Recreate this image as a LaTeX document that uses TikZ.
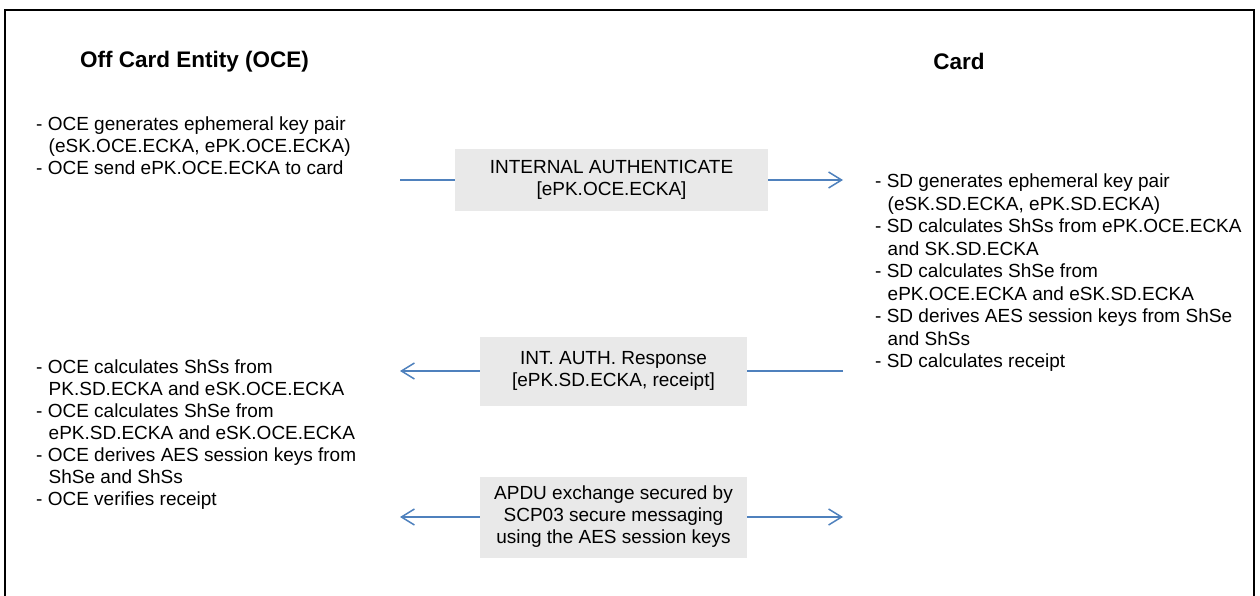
\documentclass[tikz,border=0pt]{standalone}
\usepackage{fontspec}
\setmainfont{Liberation Sans}
\usepackage{tikz}
\usetikzlibrary{arrows.meta,positioning}
\definecolor{flowblue}{RGB}{79,129,189}
\definecolor{boxgray}{RGB}{233,233,233}

\begin{document}
\begin{tikzpicture}[x=1pt,y=-1pt,
  party/.style={inner sep=0pt, font=\fontsize{22.5}{27}\selectfont\bfseries},
  steps/.style={inner sep=0pt, anchor=north west, align=left, font=\fontsize{19}{22}\selectfont},
  msgbox/.style={fill=boxgray, inner sep=0pt, align=center, font=\fontsize{19}{22}\selectfont},
  flow/.style={line width=1.5pt, color=flowblue},
  tip/.style={-{Straight Barb[length=13pt,width=16pt,line width=1.5pt]}}]
\useasboundingbox (0,0) rectangle (1260,596);
\draw[line width=1.5pt] (5,596) |- (1254,10) -- (1254,596);

% the two parties
\node[party] (oce) at (194.5,62) {Off Card Entity (OCE)};
\node[party] (card) at (959,61) {Card};

% what each side does
\node[steps] (oce1) at (36,116.5) {- OCE generates ephemeral key pair\\
  \hspace*{12.5pt}(eSK.OCE.ECKA, ePK.OCE.ECKA)\\
  - OCE send ePK.OCE.ECKA to card};
\node[steps, font=\fontsize{19}{22.5}\selectfont] (sd1) at (875,174) {- SD generates ephemeral key pair\\
  \hspace*{12.5pt}(eSK.SD.ECKA, ePK.SD.ECKA)\\
  - SD calculates ShSs from ePK.OCE.ECKA\\
  \hspace*{12.5pt}and SK.SD.ECKA\\
  - SD calculates ShSe from\\
  \hspace*{12.5pt}ePK.OCE.ECKA and eSK.SD.ECKA\\
  - SD derives AES session keys from ShSe\\
  \hspace*{12.5pt}and ShSs\\
  - SD calculates receipt};
\node[steps] (oce2) at (36,360) {- OCE calculates ShSs from\\
  \hspace*{12.5pt}PK.SD.ECKA and eSK.OCE.ECKA\\
  - OCE calculates ShSe from\\
  \hspace*{12.5pt}ePK.SD.ECKA and eSK.OCE.ECKA\\
  - OCE derives AES session keys from\\
  \hspace*{12.5pt}ShSe and ShSs\\
  - OCE verifies receipt};

% messages
\node[msgbox, minimum width=313pt, minimum height=62pt] (msg1) at (611.5,180) {INTERNAL AUTHENTICATE\\ {[}ePK.OCE.ECKA{]}};
\node[msgbox, minimum width=267pt, minimum height=69pt] (msg2) at (613.5,371) {INT. AUTH. Response\\ {[}ePK.SD.ECKA, receipt{]}};
\node[msgbox, minimum width=267pt, minimum height=81pt] (msg3) at (613.5,517) {APDU exchange secured by\\ SCP03 secure messaging\\ using the AES session keys};

\coordinate (l1) at (400,180);
\coordinate (r1) at (843,180);
\coordinate (l2) at (400,371);
\coordinate (r2) at (843,371);
\coordinate (l3) at (400,517);
\coordinate (r3) at (843,517);

\draw[flow] (l1) -- (msg1.west);
\draw[flow, tip] (msg1.east) -- (r1);
\draw[flow] (r2) -- (msg2.east);
\draw[flow, tip] (msg2.west) -- (l2);
\draw[flow, tip] (msg3.west) -- (l3);
\draw[flow, tip] (msg3.east) -- (r3);
\end{tikzpicture}
\end{document}
